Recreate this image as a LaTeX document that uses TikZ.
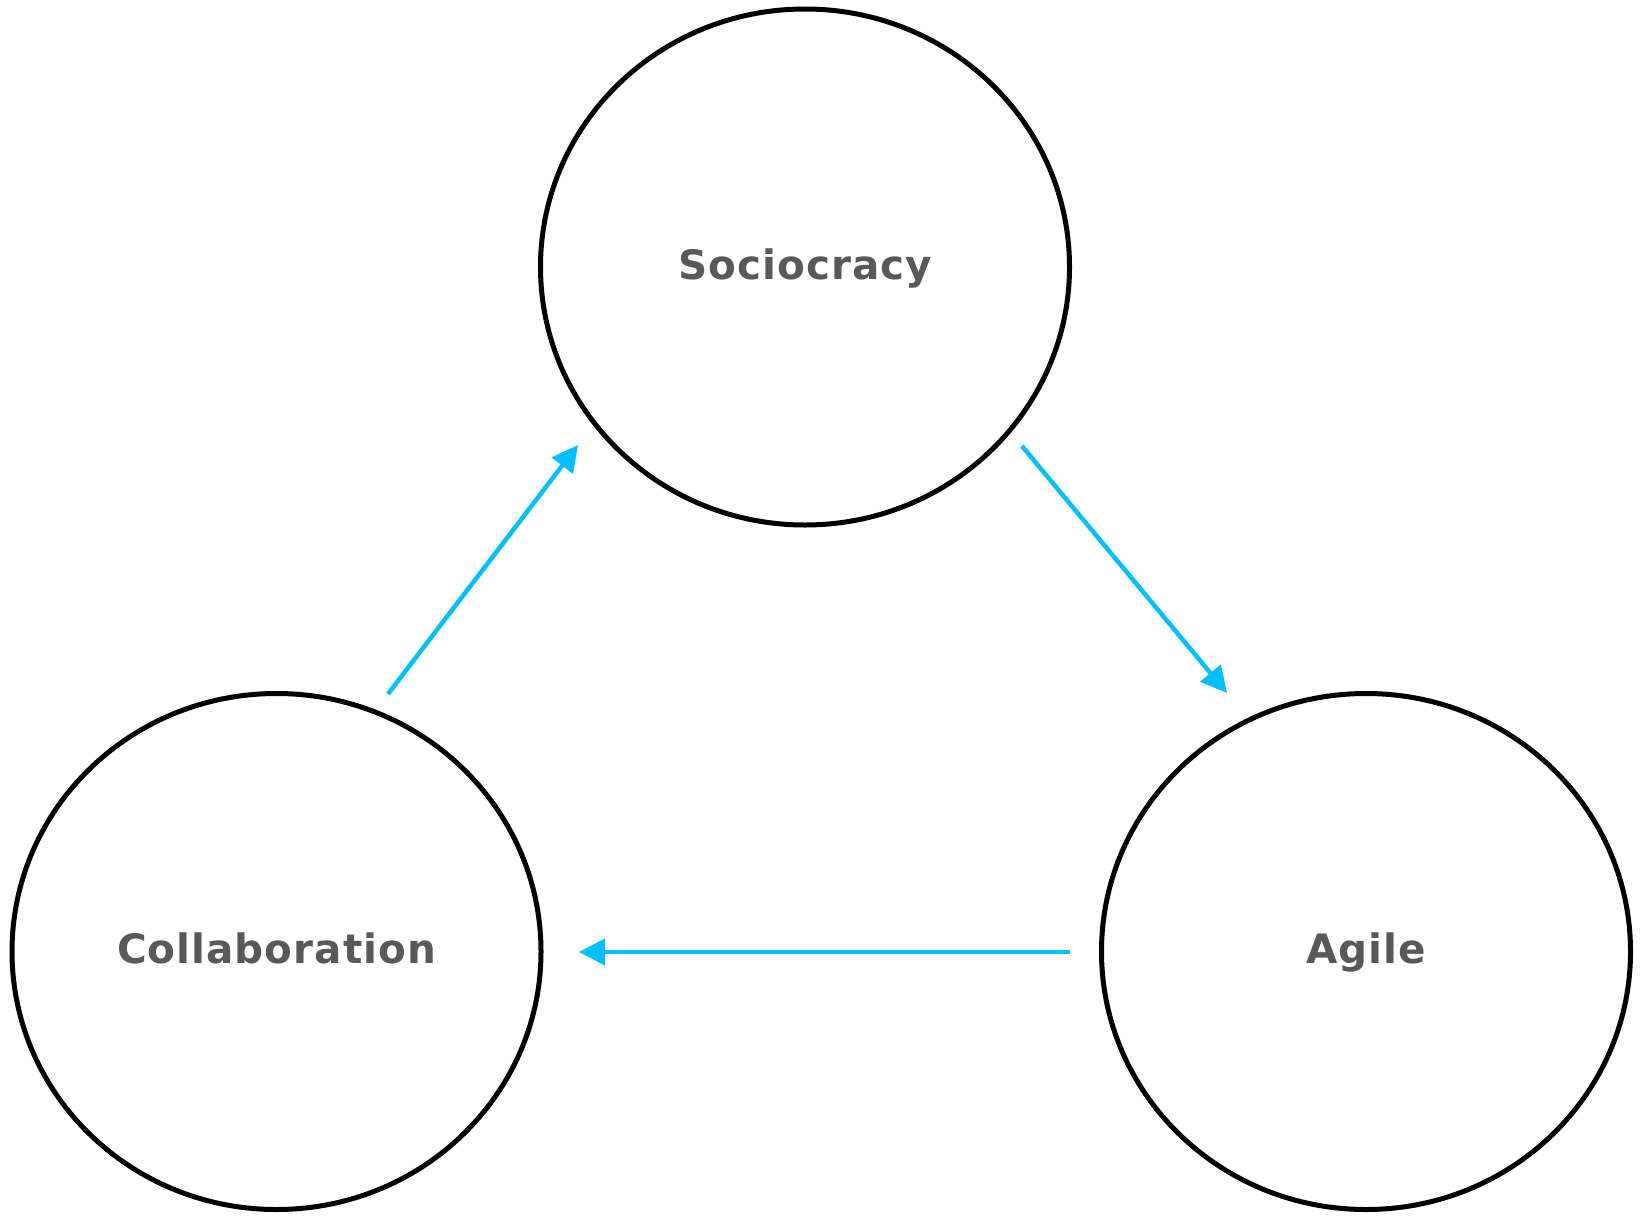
\documentclass[tikz,border=0pt]{standalone}
\usepackage{fontspec}
\usetikzlibrary{shapes.geometric,arrows.meta}
\newfontfamily\lblfont{DejaVu Sans}[LetterSpace=2.5]
\definecolor{lbl}{HTML}{595959}
\definecolor{arr}{HTML}{00BFFF}
\begin{document}
\begin{tikzpicture}[x=1pt,y=-1pt,
  circ/.style={draw=black, line width=5pt, ellipse, inner sep=0pt,
    minimum width=529pt, minimum height=516pt,
    text height=24pt, text depth=0pt,
    font=\fontsize{40.5}{48}\selectfont\lblfont\bfseries, text=lbl},
  flow/.style={draw=arr, line width=4.5pt, -{Triangle[length=26pt,width=26pt]}}]
\useasboundingbox (0,0) rectangle (1648,1215);
\node[circ] (soc) at (805,267) {Sociocracy};
\node[circ] (col) at (276.5,951.5) {Collaboration};
\node[circ] (agi) at (1366,951.5) {Agile};
\coordinate (a1s) at (388,694);
\coordinate (a1e) at (578,445);
\coordinate (a2s) at (1022,446);
\coordinate (a2e) at (1227,693);
\coordinate (a3s) at (1070,952);
\coordinate (a3e) at (579,952);
\draw[flow] (a1s) -- (a1e);
\draw[flow] (a2s) -- (a2e);
\draw[flow] (a3s) -- (a3e);
\end{tikzpicture}
\end{document}
